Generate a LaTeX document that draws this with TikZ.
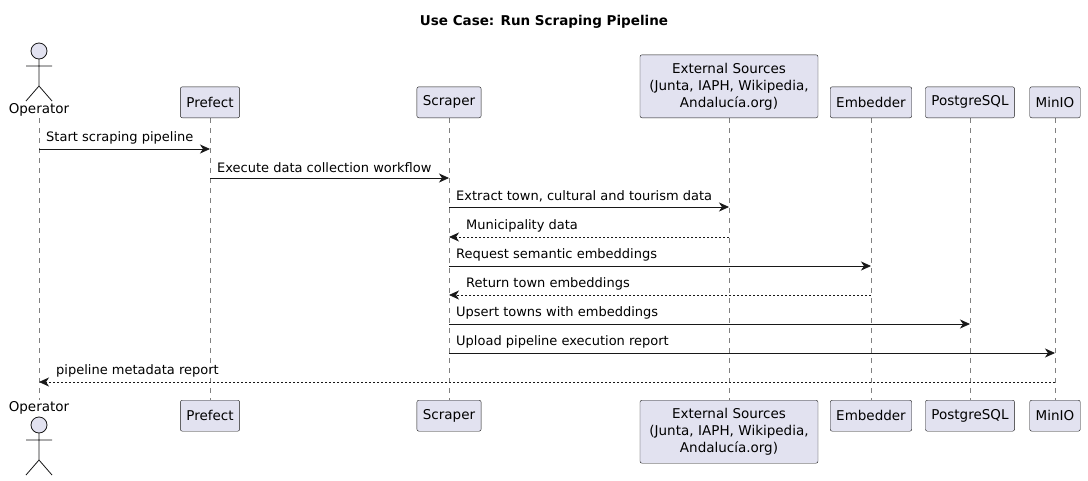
\documentclass[tikz,border=0pt]{standalone}
\usepackage{fontspec}
\setmainfont{DejaVu Sans}
\usetikzlibrary{arrows.meta}
\definecolor{pbox}{HTML}{E2E2F0}
\definecolor{pline}{HTML}{181818}
\begin{document}
\begin{tikzpicture}[x=1pt,y=-1pt,
  part/.style={draw=pline,fill=pbox,rounded corners=2pt,minimum height=31pt,inner xsep=6pt,align=center,font=\fontsize{13.5}{17}\selectfont},
  life/.style={draw=gray,dash pattern=on 5pt off 5pt,line width=0.5pt},
  msg/.style={draw=pline,-{Stealth[length=10pt,width=9pt,inset=3pt]},line width=0.8pt},
  ret/.style={msg,dash pattern=on 2pt off 2pt},
  lbl/.style={font=\fontsize{13}{15}\selectfont,anchor=south west,inner sep=0pt},
  actor/.style={draw=pline,fill=pbox,line width=0.8pt}]
\useasboundingbox (0,0) rectangle (1088,480);
\node[font=\bfseries\fontsize{13.5}{15}\selectfont] (title) at (544,22) {Use Case: Run Scraping Pipeline};
% lifelines
\foreach \n/\x in {op/39,pr/210,sc/449,ex/729,em/871,pg/970,mi/1055}{
  \coordinate (\n t) at (\x,118); \coordinate (\n b) at (\x,400);
  \draw[life] (\n t) -- (\n b);}
% top participants
\node[part,anchor=south] (prT) at (210,118) {Prefect};
\node[part,anchor=south] (scT) at (449,118) {Scraper};
\node[part,anchor=south,text width=166pt,minimum height=63pt] (exT) at (729,118) {External Sources\\(Junta, IAPH, Wikipedia,\\Andalucía.org)};
\node[part,anchor=south] (emT) at (871,118) {Embedder};
\node[part,anchor=south] (pgT) at (970,118) {PostgreSQL};
\node[part,anchor=south] (miT) at (1055,118) {MinIO};
\node[part,anchor=north] (prB) at (210,400) {Prefect};
\node[part,anchor=north] (scB) at (449,400) {Scraper};
\node[part,anchor=north,text width=166pt,minimum height=63pt] (exB) at (729,400) {External Sources\\(Junta, IAPH, Wikipedia,\\Andalucía.org)};
\node[part,anchor=north] (emB) at (871,400) {Embedder};
\node[part,anchor=north] (pgB) at (970,400) {PostgreSQL};
\node[part,anchor=north] (miB) at (1055,400) {MinIO};
% actors
\draw[actor] (39,51) circle (8);
\draw[actor] (39,59) -- (39,86) (26,66) -- (52,66) (39,86) -- (26,101) (39,86) -- (52,101);
\node[font=\fontsize{13.5}{15}\selectfont] (opT) at (39,110) {Operator};
\node[font=\fontsize{13.5}{15}\selectfont] (opB) at (39,408) {Operator};
\draw[actor] (39,425) circle (8);
\draw[actor] (39,433) -- (39,460) (26,440) -- (52,440) (39,460) -- (26,475) (39,460) -- (52,475);
% messages
\foreach \a/\b/\y/\t in {op/pr/149/Start scraping pipeline, pr/sc/178/Execute data collection workflow, sc/ex/207/{Extract town, cultural and tourism data}, sc/em/266/Request semantic embeddings, sc/pg/324/Upsert towns with embeddings, sc/mi/353/Upload pipeline execution report}{
  \draw[msg] (\a t |- 0,\y) -- (\b t |- 0,\y);
  \node[lbl] at ([xshift=7pt]\a t |- 0,\y-5) {\t};}
\foreach \a/\b/\y/\t in {ex/sc/237/Municipality data, em/sc/295/Return town embeddings, mi/op/382/pipeline metadata report}{
  \draw[ret] (\a t |- 0,\y) -- (\b t |- 0,\y);
  \node[lbl] at ([xshift=17pt]\b t |- 0,\y-5) {\t};}
\end{tikzpicture}
\end{document}
